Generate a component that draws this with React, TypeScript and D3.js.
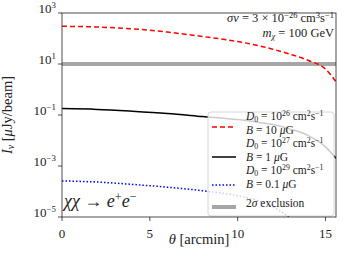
import React from 'react';
import * as d3 from 'd3';

// theta grid [arcmin] and intensities [uJy/beam]
const theta = [0, 2, 4, 6, 8, 10, 11, 12, 13, 14, 15, 15.6];
const redD26 = [302, 282, 240, 178, 120, 76, 56, 38, 24, 14, 6.3, 2.0];
const blackD27 = [0.178, 0.166, 0.141, 0.115, 0.087, 0.066, 0.054, 0.042, 0.028, 0.016, 0.0056, 0.002];
const blueD29 = [2.6e-4, 2.35e-4, 1.9e-4, 1.48e-4, 1.07e-4, 6.8e-5, 4.7e-5, 2.5e-5, 9e-6, 2e-6, 5e-7, 2e-7];
const exclusion = 10;

const xTicks = [0, 5, 10, 15];
const yTickExps = [3, 1, -1, -3, -5];

const W = 349;
const H = 265;
const L = 62, T = 13, R = 336, B = 217;
const FONT = 'Liberation Serif, DejaVu Serif, serif';

type Seg = { t: string; i?: boolean; s?: 'sup' | 'sub' };

const Rich = ({ segs, fs }: { segs: Seg[]; fs: number }) => {
  let cur = 0;
  return (
    <>
      {segs.map((g, k) => {
        const target = g.s === 'sup' ? -0.36 * fs : g.s === 'sub' ? 0.16 * fs : 0;
        const dy = target - cur;
        cur = target;
        return (
          <tspan key={k} dy={dy} fontStyle={g.i ? 'italic' : 'normal'} fontSize={g.s ? fs * 0.68 : fs}>
            {g.t}
          </tspan>
        );
      })}
    </>
  );
};

const minus = (n: number) => (n < 0 ? '\u2212' + Math.abs(n) : String(n));

const d0Label = (exp: number): Seg[] => [
  { t: 'D', i: true },
  { t: '0', s: 'sub' },
  { t: ' = 10' },
  { t: String(exp), s: 'sup' },
  { t: ' cm' },
  { t: '2', s: 'sup' },
  { t: 's' },
  { t: '\u22121', s: 'sup' },
];
const bLabel = (v: string): Seg[] => [{ t: 'B', i: true }, { t: ' = ' + v + ' ' }, { t: '\u03bc', i: true }, { t: 'G' }];

const legendItems = [
  { lines: [d0Label(26), bLabel('10')], color: '#ff0000', dash: '5,3', width: 1.5, y: [120, 134], hy: 127 },
  { lines: [d0Label(27), bLabel('1')], color: '#000000', dash: '', width: 1.5, y: [147, 161], hy: 157 },
  { lines: [d0Label(29), bLabel('0.1')], color: '#0000ff', dash: '1.5,2', width: 1.5, y: [174, 188], hy: 185 },
  { lines: [[{ t: '2' }, { t: '\u03c3', i: true }, { t: ' exclusion' }] as Seg[]], color: '#a6a6a6', dash: '', width: 4, y: [207], hy: 207 },
];

export default function App() {
  const x = d3.scaleLinear().domain([0, 15.6]).range([L, R]);
  const y = d3.scaleLog().domain([1e-5, 1e3]).range([B, T]);
  const line = d3
    .line<number>()
    .x((_, i) => x(theta[i]))
    .y((d) => y(d))
    .curve(d3.curveMonotoneX);

  return (
    <svg width={W} height={H} style={{ position: 'absolute', left: 0, top: 0, background: '#fff' }} fontFamily={FONT}>
      <defs>
        <clipPath id="plot">
          <rect x={L} y={T} width={R - L} height={B - T} />
        </clipPath>
      </defs>
      <g clipPath="url(#plot)">
        <line x1={L} x2={R} y1={y(exclusion)} y2={y(exclusion)} stroke="#a6a6a6" strokeWidth={4} />
        <path d={line(redD26) || ''} fill="none" stroke="#ff0000" strokeWidth={1.5} strokeDasharray="5,3" />
        <path d={line(blackD27) || ''} fill="none" stroke="#000" strokeWidth={1.5} />
        <path d={line(blueD29) || ''} fill="none" stroke="#0000ff" strokeWidth={1.5} strokeDasharray="1.5,2" />
      </g>

      {/* legend */}
      <rect x={208} y={112} width={R - 208 - 2} height={B - 112 - 1} rx={3} fill="#fff" fillOpacity={0.8} stroke="#cccccc" strokeWidth={0.8} />
      {legendItems.map((it, k) => (
        <g key={k}>
          <line x1={212} x2={236} y1={it.hy} y2={it.hy} stroke={it.color} strokeWidth={it.width} strokeDasharray={it.dash} />
          {it.lines.map((segs, j) => (
            <text key={j} x={246} y={it.y[j]} dy="0.35em" fontSize={11.5} fill="#222" style={{ whiteSpace: 'pre' }}>
              <Rich segs={segs} fs={11.5} />
            </text>
          ))}
        </g>
      ))}

      {/* annotations */}
      <text x={334} y={22} dy="0.35em" textAnchor="end" fontSize={12.5} fill="#222" style={{ whiteSpace: 'pre' }}>
        <Rich
          segs={[
            { t: '\u03c3v', i: true },
            { t: ' = 3 \u00d7 10' },
            { t: '\u221226', s: 'sup' },
            { t: ' cm' },
            { t: '3', s: 'sup' },
            { t: 's' },
            { t: '\u22121', s: 'sup' },
          ]}
          fs={12.5}
        />
      </text>
      <text x={334} y={37} dy="0.35em" textAnchor="end" fontSize={12.5} fill="#222" style={{ whiteSpace: 'pre' }}>
        <Rich segs={[{ t: 'm', i: true }, { t: '\u03c7', i: true, s: 'sub' }, { t: ' = 100 GeV' }]} fs={12.5} />
      </text>
      <text x={64} y={207} dy="0.35em" fontSize={18} fill="#222" style={{ whiteSpace: 'pre' }}>
        <Rich segs={[{ t: '\u03c7\u03c7', i: true }, { t: ' \u2192 ' }, { t: 'e', i: true }, { t: '+', s: 'sup' }, { t: 'e', i: true }, { t: '\u2212', s: 'sup' }]} fs={18} />
      </text>

      {/* axes frame */}
      <rect x={L} y={T} width={R - L} height={B - T} fill="none" stroke="#222" strokeWidth={0.8} />
      {yTickExps.map((e) => (
        <g key={e}>
          <line x1={L - 4} x2={L} y1={y(Math.pow(10, e))} y2={y(Math.pow(10, e))} stroke="#222" strokeWidth={0.8} />
          <text x={L - 6} y={y(Math.pow(10, e))} dy="0.35em" textAnchor="end" fontSize={13} fill="#222" style={{ whiteSpace: 'pre' }}>
            <Rich segs={[{ t: '10' }, { t: minus(e), s: 'sup' }]} fs={13} />
          </text>
        </g>
      ))}
      {xTicks.map((t) => (
        <g key={t}>
          <line x1={x(t)} x2={x(t)} y1={B} y2={B + 4} stroke="#222" strokeWidth={0.8} />
          <text x={x(t)} y={B + 16} dy="0.35em" textAnchor="middle" fontSize={13} fill="#222">
            {t}
          </text>
        </g>
      ))}
      <text x={(L + R) / 2} y={244} dy="0.35em" textAnchor="middle" fontSize={14.5} fill="#222" style={{ whiteSpace: 'pre' }}>
        <Rich segs={[{ t: '\u03b8', i: true }, { t: ' [arcmin]' }]} fs={14.5} />
      </text>
      <text transform={`translate(12,${(T + B) / 2}) rotate(-90)`} dy="0.35em" textAnchor="middle" fontSize={14.5} fill="#222" style={{ whiteSpace: 'pre' }}>
        <Rich segs={[{ t: 'I', i: true }, { t: '\u03bd', i: true, s: 'sub' }, { t: ' [' }, { t: '\u03bc', i: true }, { t: 'Jy/beam]' }]} fs={14.5} />
      </text>
    </svg>
  );
}
